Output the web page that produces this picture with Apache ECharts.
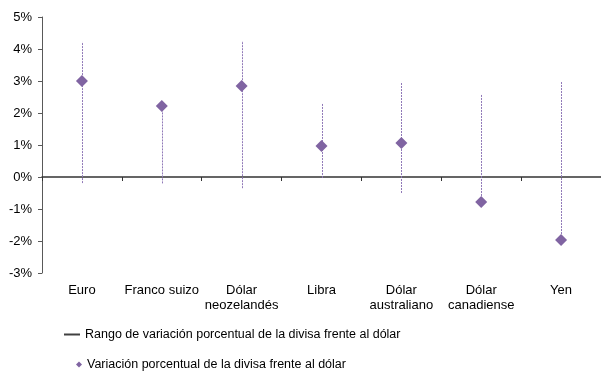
<!DOCTYPE html>
<html>
<head>
<meta charset="utf-8">
<script src="https://cdn.jsdelivr.net/npm/echarts@6/dist/echarts.min.js"></script>
<style>
  html, body { margin: 0; padding: 0; background: #fff; }
  #range_chart { width: 601px; height: 371px; }
</style>
</head>
<body>
<div id="range_chart"></div>
<script>
// Chart data
// ------------------------------

var categories = ["Euro", "Franco suizo", "Dólar\nneozelandés", "Libra", "Dólar\naustraliano", "Dólar\ncanadiense", "Yen"];
var variacion = [3.0, 2.22, 2.84, 0.97, 1.06, -0.78, -1.97];
var rangoMin = [-0.19, -0.2, -0.35, -0.03, -0.5, -0.78, -1.97];
var rangoMax = [4.22, 2.22, 4.25, 2.31, 2.97, 2.59, 2.97];
var yTicks = { min: -3, max: 5, interval: 1 };

var rangoName = "Rango de variación porcentual de la divisa frente al dólar";
var variacionName = "Variación porcentual de la divisa frente al dólar";

// Setup module
// ------------------------------

var RangeChart = (function () {
  var _rangeChart = function () {
    if (typeof echarts == "undefined") {
      console.warn("Warning - echarts.min.js is not loaded.");
      return;
    }

    var element = document.getElementById("range_chart");
    if (!element) return;

    var chart = echarts.init(element);

    // Build range rows [index, low, high]
    var rangeData = categories.map(function (c, i) {
      return [i, rangoMin[i], rangoMax[i]];
    });

    var legendText = { fontSize: 12.5, color: "#000", fontFamily: "Liberation Sans, Arial, sans-serif" };

    chart.setOption({
      animation: false,

      textStyle: {
        fontFamily: "Liberation Sans, Arial, sans-serif",
        fontSize: 13,
        color: "#000"
      },

      grid: {
        left: 42,
        right: 0,
        top: 17,
        bottom: 98,
        containLabel: false
      },

      // Legend, two rows
      legend: [
        {
          left: 59,
          top: 323,
          itemWidth: 16,
          itemHeight: 2,
          textStyle: legendText,
          data: [{ name: rangoName, icon: "rect", itemStyle: { color: "#404040" } }]
        },
        {
          left: 71,
          top: 353,
          itemWidth: 6,
          itemHeight: 6,
          textStyle: legendText,
          data: [{ name: variacionName, icon: "diamond", itemStyle: { color: "#8064a2" } }]
        }
      ],

      // Horizontal axes: labels at bottom, line on zero
      xAxis: [
        {
          type: "category",
          data: categories,
          axisLine: { show: false, onZero: false },
          axisTick: { show: false },
          axisLabel: {
            interval: 0,
            margin: 10,
            lineHeight: 15,
            color: "#000",
            fontSize: 13
          },
          splitLine: { show: false }
        },
        {
          type: "category",
          position: "bottom",
          data: categories,
          axisLine: {
            onZero: true,
            lineStyle: { color: "#333", width: 1.5 }
          },
          axisTick: {
            show: true,
            interval: 0,
            length: 4,
            lineStyle: { color: "#333" }
          },
          axisLabel: { show: false },
          splitLine: { show: false }
        }
      ],

      // Vertical axis
      yAxis: {
        type: "value",
        min: yTicks.min,
        max: yTicks.max,
        interval: yTicks.interval,
        axisLine: {
          show: true,
          lineStyle: { color: "#595959", width: 1 }
        },
        axisTick: {
          show: true,
          length: 4,
          lineStyle: { color: "#595959" }
        },
        axisLabel: {
          margin: 10,
          color: "#000",
          fontSize: 13,
          formatter: function (v) { return v + "%"; }
        },
        splitLine: { show: false }
      },

      series: [
        {
          name: rangoName,
          type: "custom",
          xAxisIndex: 0,
          encode: { x: 0, y: [1, 2] },
          data: rangeData,
          itemStyle: { color: "#404040" },
          renderItem: function (params, api) {
            var idx = api.value(0);
            var p1 = api.coord([idx, api.value(1)]);
            var p2 = api.coord([idx, api.value(2)]);
            // snap to pixel centre so the dotted line stays crisp
            var x = Math.round(p1[0]) + 0.5;
            return {
              type: "line",
              shape: { x1: x, y1: p1[1], x2: x, y2: p2[1] },
              style: { stroke: "#9079b8", lineWidth: 1, lineDash: [2, 1] }
            };
          },
          z: 2
        },
        {
          name: variacionName,
          type: "scatter",
          xAxisIndex: 0,
          symbol: "diamond",
          symbolSize: 12,
          itemStyle: { color: "#8064a2", opacity: 1 },
          data: variacion,
          z: 3
        }
      ]
    });

    window.addEventListener("resize", function () {
      chart.resize();
    });
  };

  return {
    init: function () {
      _rangeChart();
    }
  };
})();

document.addEventListener("DOMContentLoaded", function () {
  RangeChart.init();
});
</script>
</body>
</html>
